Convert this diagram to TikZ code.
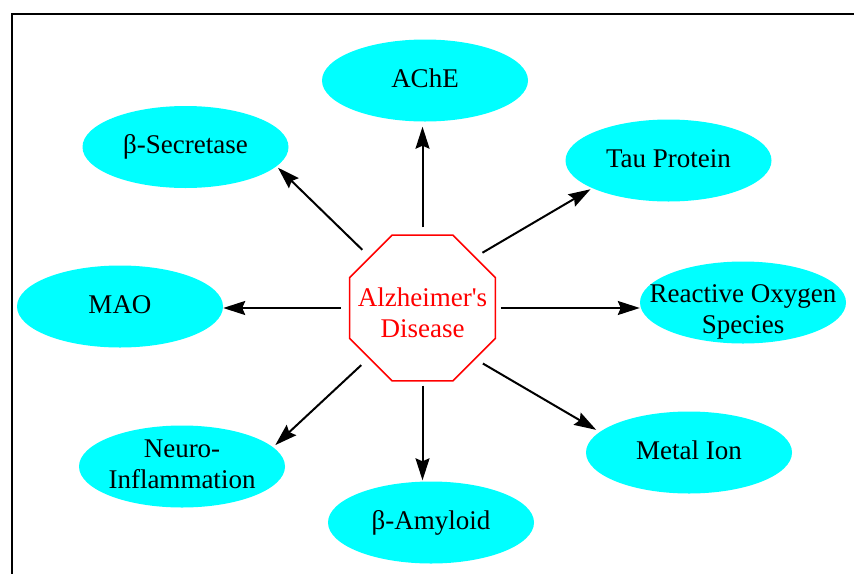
\documentclass[tikz,border=0pt]{standalone}
\usepackage{fontspec}
\setmainfont{Liberation Serif}
\usetikzlibrary{arrows.meta,shapes.geometric}
\definecolor{Target}{HTML}{00FFFF}
\definecolor{Disease}{HTML}{FF0000}
\tikzset{>={Stealth[length=22pt,width=14pt,inset=3pt]}}
\tikzset{
  target/.style={shape=ellipse, fill=Target, minimum width=206pt, minimum height=82pt,
    inner xsep=-30pt, inner ysep=-20pt, align=center, text height=18pt, text depth=5pt,
    font=\fontsize{27}{31}\selectfont},
  disease/.style={shape=regular polygon, regular polygon sides=8, minimum size=158pt,
    inner sep=-40pt, draw=Disease, line width=1.5pt, text=Disease, align=center,
    text height=64pt, text depth=6pt, font=\fontsize{27}{31}\selectfont},
  link/.style={->, draw, line width=2pt}
}

\begin{document}
\begin{tikzpicture}[x=1pt, y=-1pt]
    \useasboundingbox (0,0) rectangle (854,574);
    \draw[line width=1.3pt] (854,14) -| (12,574);

    \node at (422.5, 308) (AD) [disease] {Alzheimer\textquotesingle s\\Disease};
    \node at (425, 80.5) (AChE) [target] {AChE};
    \node at (185.5, 147) (BSec) [target] {β-Secretase};
    \node at (668.5, 160.5) (Tau) [target] {Tau Protein};
    \node at (120, 306.5) (MAO) [target] {MAO};
    \node at (743, 302.5) (ROS) [target, text height=67pt, text depth=6pt] {Reactive Oxygen\\Species};
    \node at (182, 466.5) (NI) [target, text height=48pt, text depth=5pt] {Neuro-\\Inflammation};
    \node at (689, 452.5) (MI) [target] {Metal Ion};
    \node at (431, 522.5) (BAm) [target] {β-Amyloid};

    % arrows out of the disease node
    \path[link, shorten <=7pt, shorten >=5pt] (AD.north) -- (AD.north |- AChE.south);
    \path[link, shorten <=10pt, shorten >=2pt] (AD.136) -- (BSec.-12);
    \path[link, shorten <=8pt, shorten >=2pt] (AD.44) -- (Tau.200);
    \path[link, shorten <=8pt] (AD.west) -- (AD.west -| MAO.east);
    \path[link, shorten <=4.5pt] (AD.east) -- (AD.east -| ROS.west);
    \path[link, shorten <=10pt, shorten >=3pt] (AD.-137) -- (NI.12);
    \path[link, shorten <=8.5pt, shorten >=4pt] (AD.-44) -- (MI.167);
    \path[link, shorten <=4pt, shorten >=1pt] (AD.south) -- (AD.south |- BAm.north);
\end{tikzpicture}
\end{document}
